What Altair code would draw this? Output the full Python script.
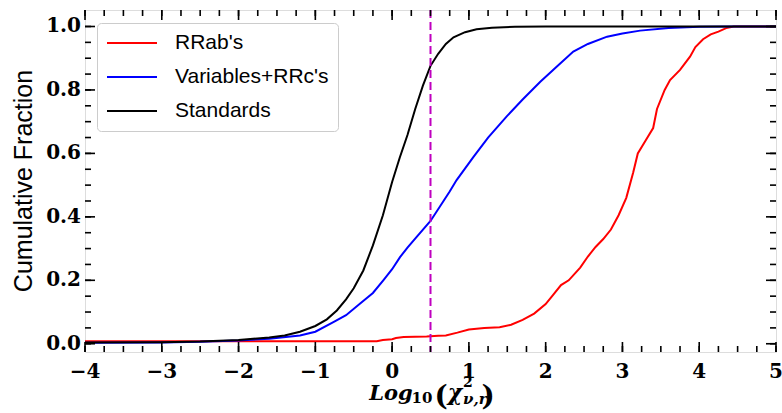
import altair as alt
import pandas as pd

# ---- data ----
series_names = ["RRab's", "Variables+RRc's", "Standards"]
series_colors = ["#ff0000", "#0000ff", "#000000"]

rrab_x = [-4.0, -0.2, -0.12, 0.0, 0.05, 0.15, 0.3, 0.45, 0.6, 0.7, 0.85, 1.0, 1.2, 1.4,
          1.55, 1.7, 1.85, 2.0, 2.1, 2.2, 2.3, 2.45, 2.55, 2.65, 2.75, 2.85, 2.95, 3.05,
          3.14, 3.2, 3.3, 3.4, 3.45, 3.55, 3.62, 3.75, 3.88, 3.95, 4.05, 4.15, 4.25, 4.35,
          4.45, 5.0]
rrab_y = [0.008, 0.008, 0.012, 0.014, 0.018, 0.021, 0.022, 0.023, 0.025, 0.026, 0.035,
          0.045, 0.05, 0.052, 0.06, 0.075, 0.095, 0.125, 0.155, 0.185, 0.2, 0.24, 0.275,
          0.305, 0.33, 0.36, 0.405, 0.46, 0.54, 0.6, 0.64, 0.68, 0.74, 0.8, 0.831, 0.863,
          0.905, 0.935, 0.96, 0.975, 0.984, 0.995, 1.0, 1.0]

var_x = [-4.0, -3.0, -2.5, -2.0, -1.6, -1.2, -1.0, -0.765, -0.6, -0.42, -0.25, -0.115,
         0.0, 0.103, 0.2, 0.32, 0.5, 0.75, 0.84, 1.06, 1.25, 1.49, 1.7, 1.93, 2.15, 2.36,
         2.55, 2.8, 3.0, 3.23, 3.6, 4.0, 4.4, 5.0]
var_y = [0.003, 0.004, 0.006, 0.01, 0.016, 0.026, 0.038, 0.068, 0.09, 0.126, 0.16, 0.2,
         0.235, 0.273, 0.303, 0.337, 0.387, 0.48, 0.516, 0.589, 0.65, 0.716, 0.77, 0.826,
         0.875, 0.921, 0.945, 0.968, 0.978, 0.987, 0.995, 0.999, 1.0, 1.0]

std_x = [-4.0, -3.0, -2.5, -2.0, -1.6, -1.4, -1.2, -1.0, -0.85, -0.72, -0.6, -0.5, -0.375,
         -0.25, -0.12, 0.0, 0.1, 0.2, 0.3, 0.4, 0.5, 0.6, 0.7, 0.8, 0.95, 1.1, 1.3, 1.6,
         2.0, 3.0, 5.0]
std_y = [0.004, 0.005, 0.007, 0.012, 0.02, 0.026, 0.038, 0.056, 0.077, 0.105, 0.14, 0.175,
         0.231, 0.31, 0.405, 0.51, 0.587, 0.658, 0.739, 0.813, 0.876, 0.914, 0.945, 0.966,
         0.982, 0.991, 0.996, 0.999, 1.0, 1.0, 1.0]

cut_x = [0.5]

x_major = [-4.0, -3.0, -2.0, -1.0, 0.0, 1.0, 2.0, 3.0, 4.0, 5.0]
x_major_labels = ["\u22124", "\u22123", "\u22122", "\u22121", "0", "1", "2", "3", "4", "5"]
x_minor = [-4 + 0.25 * i for i in range(37)]
y_major = [0.0, 0.2, 0.4, 0.6, 0.8, 1.0]
y_major_labels = ["0.0", "0.2", "0.4", "0.6", "0.8", "1.0"]
y_minor = [round(0.05 * i, 2) for i in range(21)]

y_title = "Cumulative Fraction"

# ---- build tables ----
rows = []
for name, xs, ys in [(series_names[0], rrab_x, rrab_y),
                     (series_names[1], var_x, var_y),
                     (series_names[2], std_x, std_y)]:
    for i, (a, b) in enumerate(zip(xs, ys)):
        rows.append({"series": name, "x": a, "y": b, "order": i})
df = pd.DataFrame(rows)

W, H = 691, 342
X0, X1 = -4.0, 5.0
Y0, Y1 = -0.026, 1.052
xscale = alt.Scale(domain=[X0, X1], nice=False, zero=False)
yscale = alt.Scale(domain=[Y0, Y1], nice=False, zero=False)

tick_font = "DejaVu Serif"

lines = alt.Chart(df).mark_line(strokeWidth=2).encode(
    x=alt.X("x:Q", scale=xscale, axis=None),
    y=alt.Y("y:Q", scale=yscale, axis=None),
    color=alt.Color("series:N",
                    scale=alt.Scale(domain=series_names, range=series_colors),
                    legend=alt.Legend(title=None, orient="none", legendX=12, legendY=13,
                                      symbolType="stroke", symbolSize=2500,
                                      symbolStrokeWidth=2, labelFont="Liberation Sans",
                                      labelFontSize=21, labelColor="black", labelOffset=17,
                                      padding=9, clipHeight=22, rowPadding=12,
                                      fillColor="white", strokeColor="#cccccc",
                                      cornerRadius=4)),
    order="order:Q",
)

cut = alt.Chart(pd.DataFrame({"cx": cut_x})).mark_rule(
    color="#bf00bf", strokeWidth=2, strokeDash=[8, 4]
).encode(x=alt.X("cx:Q", scale=xscale, axis=None),
         y=alt.value(0), y2=alt.value(H))


# inward ticks drawn as filled tick marks, placed through the scales
def xticks(vals, length, name):
    d = pd.DataFrame({name: vals})
    out = []
    for yc in (H - length / 2, length / 2):
        out.append(alt.Chart(d).mark_tick(
            orient="vertical", size=length, thickness=1.6, color="#000000", opacity=1
        ).encode(x=alt.X(f"{name}:Q", scale=xscale, axis=None), y=alt.value(yc)))
    return out


def yticks(vals, length, name):
    d = pd.DataFrame({name: vals})
    out = []
    for xc in (length / 2, W - length / 2):
        out.append(alt.Chart(d).mark_tick(
            orient="horizontal", size=length, thickness=1.6, color="#000000", opacity=1
        ).encode(y=alt.Y(f"{name}:Q", scale=yscale, axis=None), x=alt.value(xc)))
    return out


tick_layers = (xticks(x_minor, 6, "xmin") + xticks(x_major, 10, "xmaj")
               + yticks(y_minor, 6, "ymin") + yticks(y_major, 10, "ymaj"))

# tick labels drawn through the scales
xlab = alt.Chart(pd.DataFrame({"xl": x_major, "xt": x_major_labels})).mark_text(
    font=tick_font, fontWeight="bold", fontSize=20, align="center", baseline="top",
    color="black"
).encode(x=alt.X("xl:Q", scale=xscale, axis=None), y=alt.value(H + 10), text="xt:N")

ylab = alt.Chart(pd.DataFrame({"yl": y_major, "yt": y_major_labels})).mark_text(
    font=tick_font, fontWeight="bold", fontSize=20, align="right", baseline="middle",
    color="black"
).encode(y=alt.Y("yl:Q", scale=yscale, axis=None), x=alt.value(-4), text="yt:N")

one = pd.DataFrame({"a": [0]})

ytitle = alt.Chart(one).mark_text(
    text=y_title, font="Liberation Sans", fontSize=25, angle=270, align="center",
    baseline="middle", color="black"
).encode(x=alt.value(-61), y=alt.value(H / 2))

# x-axis title composed of pieces: Log_10(chi^2_{nu,r})
title_font = "DejaVu Serif"


def piece(txt, x, y, size, style="italic", align="center"):
    return alt.Chart(one).mark_text(
        text=txt, font=title_font, fontWeight="bold", fontStyle=style, fontSize=size,
        align=align, baseline="alphabetic", color="black"
    ).encode(x=alt.value(x), y=alt.value(y))


title_layers = [
    piece("Log", 306, 390, 21),
    piece("10", 337, 393, 15, style="normal"),
    piece("(", 356, 395, 28, style="normal"),
    piece("χ", 370, 390, 22),
    piece("2", 378, 377, 14, style="normal", align="left"),
    piece("ν,r", 378, 394, 15, align="left"),
    piece(")", 403, 395, 28, style="normal"),
]

chart = alt.layer(lines, cut, xlab, ylab, ytitle, *title_layers, *tick_layers).properties(
    width=W, height=H,
    padding={"left": 85, "top": 10, "right": 6, "bottom": 61},
    autosize=alt.AutoSizeParams(type="none"),
).configure_view(stroke="black", strokeWidth=2).configure(background="white")

chart.save("out.html", embed_options={"renderer": "svg", "actions": False})
